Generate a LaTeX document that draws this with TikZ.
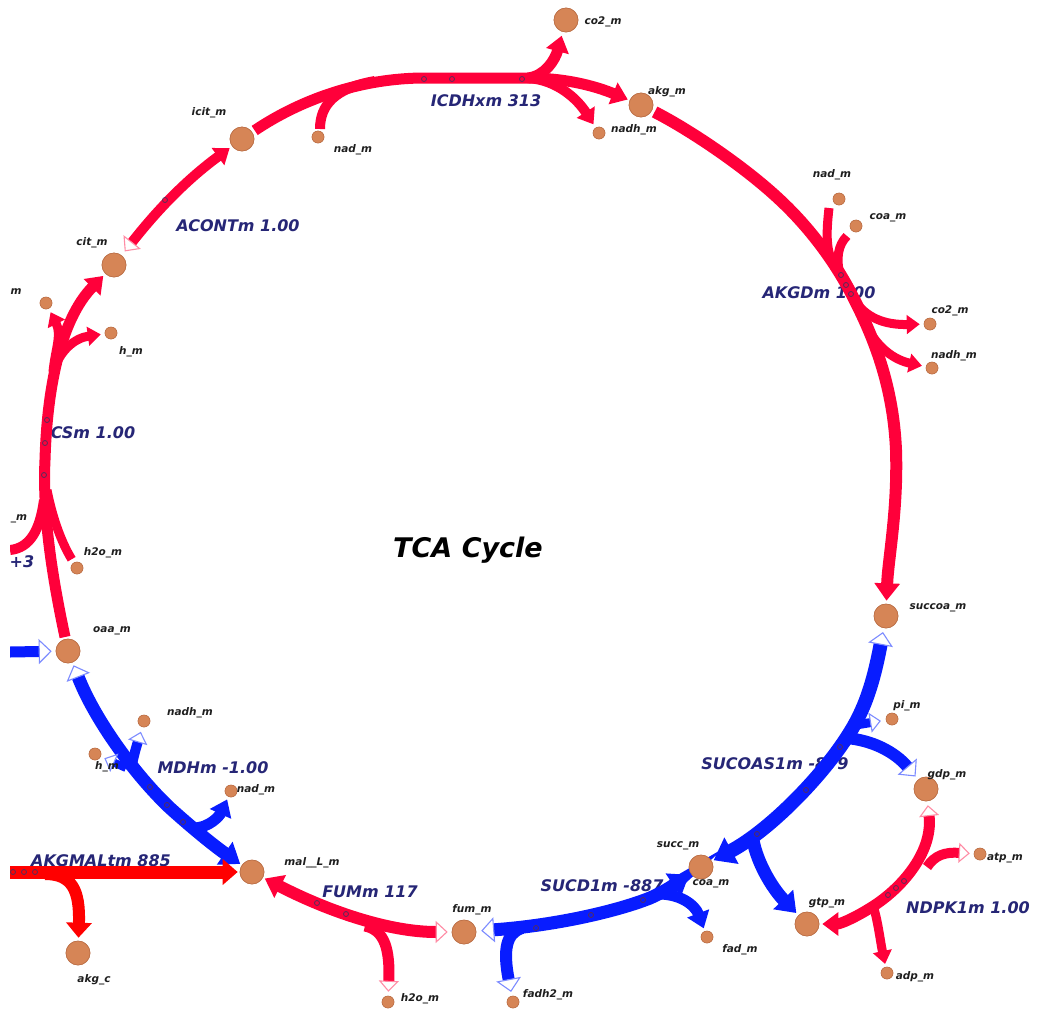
\documentclass[tikz,border=0pt]{standalone}
\usepackage{fontspec}
\setmainfont{DejaVu Sans}
\usetikzlibrary{arrows.meta,calc}
\definecolor{tred}{RGB}{255,0,58}
\definecolor{kred}{RGB}{255,0,0}
\definecolor{tblue}{RGB}{8,28,255}
\definecolor{hred}{RGB}{255,140,165}
\definecolor{hblue}{RGB}{125,140,255}
\definecolor{metfill}{RGB}{214,133,86}
\definecolor{metdraw}{RGB}{188,112,72}
\definecolor{rxtext}{RGB}{38,38,118}
\definecolor{mkc}{RGB}{85,45,90}
\tikzset{
  FA/.tip={Triangle[length=0pt 1.45,width=0pt 2.05]},
  FK/.tip={Triangle[length=15pt,width=25pt]},
  HR/.tip={Triangle[open,length=12pt,width=22pt,line width=1.1pt,color=hred]},
  HRs/.tip={Triangle[open,length=11pt,width=20pt,line width=1.1pt,color=hred]},
  HB/.tip={Triangle[open,length=13pt,width=25pt,line width=1.1pt,color=hblue]},
  HBs/.tip={Triangle[open,length=11pt,width=20pt,line width=1.1pt,color=hblue]},
  big/.style={circle,fill=metfill,draw=metdraw,line width=0.6pt,inner sep=0pt,minimum size=24pt},
  sml/.style={circle,fill=metfill,draw=metdraw,line width=0.5pt,inner sep=0pt,minimum size=12pt},
  mlab/.style={font=\fontsize{10.5}{10.5}\selectfont\bfseries\itshape,text=black!88,inner sep=0pt},
  rlab/.style={font=\fontsize{16}{16}\selectfont\bfseries\itshape,text=rxtext,inner sep=0pt},
  rr/.style={draw=tred,line width=#1},
  bb/.style={draw=tblue,line width=#1},
  mk/.style={draw=mkc,line width=0.8pt},
}
\begin{document}
\begin{tikzpicture}[x=1pt,y=-1pt]
\useasboundingbox[fill=white] (0,0) rectangle (1037,1010);
\clip (10,0) rectangle (1037,1010);

% ---------- metabolite nodes (placed first for names; drawn again on top later)
\path
 (566,20) node[big] (co2a) {}
 (641,105) node[big] (akgm) {}
 (599,133) node[sml] (nadha) {}
 (318,137) node[sml] (nada) {}
 (242,139) node[big] (icit) {}
 (114,265) node[big] (cit) {}
 (46,303) node[sml] (coac) {}
 (111,333) node[sml] (hmb) {}
 (77,568) node[sml] (h2oa) {}
 (68,651) node[big] (oaa) {}
 (144,721) node[sml] (nadhb) {}
 (95,754) node[sml] (hmc) {}
 (231,791) node[sml] (nadb) {}
 (252,872) node[big] (mal) {}
 (78,953) node[big] (akgc) {}
 (388,1002) node[sml] (h2ob) {}
 (464,932) node[big] (fum) {}
 (513,1002) node[sml] (fadh2) {}
 (701,867) node[big] (succ) {}
 (707,937) node[sml] (fad) {}
 (807,924) node[big] (gtp) {}
 (887,973) node[sml] (adp) {}
 (980,854) node[sml] (atp) {}
 (926,789) node[big] (gdp) {}
 (892,719) node[sml] (pim) {}
 (886,616) node[big] (succoa) {}
 (932,368) node[sml] (nadhc) {}
 (930,324) node[sml] (co2c) {}
 (856,226) node[sml] (coad) {}
 (839,199) node[sml] (nadc) {};

% ---------- reaction labels
\node[rlab] (lICDH) at (486,101) {ICDHxm 313};
\node[rlab] (lACON) at (238,226) {ACONTm 1.00};
\node[rlab] (lAKGD) at (819,293) {AKGDm 1.00};
\node[rlab] (lCS) at (93,433) {CSm 1.00};
\node[rlab] (lP3) at (22,562) {+3};
\node[rlab] (lMDH) at (213,768) {MDHm -1.00};
\node[rlab] (lAKGMAL) at (101,861) {AKGMALtm 885};
\node[rlab] (lFUM) at (370,892) {FUMm 117};
\node[rlab] (lSUCD) at (602,886) {SUCD1m -887};
\node[rlab] (lSUCOAS) at (775,764) {SUCOAS1m -879};
\node[rlab] (lNDPK) at (968,908) {NDPK1m 1.00};

% ---------- ACONTm
\draw[rr=10pt, {HR}-{FA}, shorten <=5pt, shorten >=3pt] (cit) .. controls (148,222) and (178,186) .. (icit);
\draw[mk] (165,200) circle[radius=2.5pt];

% ---------- ICDHxm
\coordinate (icdh) at (528,78);
\draw[rr=11pt, shorten <=3pt] (icit) .. controls (300,100) and (360,78) .. (425,78) -- (icdh);
\draw[rr=10pt] ($(nada)+(2,-8)$) .. controls (320,105) and (335,88) .. (375,81);
\draw[rr=11pt, -{FA}, shorten >=4pt] (icdh) .. controls (545,76) and (555,60) .. (co2a);
\draw[rr=11pt, -{FA}, shorten >=2pt] (icdh) .. controls (570,78) and (600,88) .. (akgm);
\draw[rr=10pt, -{FA}, shorten >=4pt] (icdh) .. controls (558,80) and (578,100) .. (nadha);
\foreach \p in {(424,79),(452,79),(522,79)} \draw[mk] \p circle[radius=2.5pt];

% ---------- AKGDm
\draw[rr=12pt, -{FA}, shorten <=3pt, shorten >=3pt] (akgm) .. controls (690,130) and (745,167) .. (780,200) .. controls (810,228) and (835,262) .. (852,295) .. controls (870,330) and (893,380) .. (896,450) .. controls (898,510) and (888,560) .. (succoa);
\draw[rr=9pt] ($(nadc)+(-10,9)$) .. controls (826,235) and (826,250) .. (834,266);
\draw[rr=9pt] ($(coad)+(-9,10)$) .. controls (838,245) and (836,258) .. (840,275);
\draw[rr=9pt, -{FA}, shorten >=4pt] (853,298) .. controls (865,318) and (885,325) .. (co2c);
\draw[rr=9pt, -{FA}, shorten >=4pt] (863,318) .. controls (875,348) and (895,360) .. (nadhc);
\foreach \p in {(841,275),(846,285),(851,294)} \draw[mk] \p circle[radius=2.5pt];

% ---------- SUCOAS1m
\draw[bb=14pt, {HB}-{FA}, shorten <=4pt, shorten >=2pt] (succoa) .. controls (872,690) and (862,715) .. (845,740) .. controls (820,778) and (770,830) .. (succ);
\draw[bb=9pt, -{HBs}, shorten >=5pt] (850,726) -- (pim);
\draw[bb=12pt, -{HB}, shorten >=4pt] (846,738) .. controls (872,740) and (895,752) .. (gdp);
\draw[bb=13pt, -{FA}, shorten >=3pt] (752,834) .. controls (755,860) and (772,888) .. (gtp);
\foreach \p in {(840,747),(806,790),(757,834)} \draw[mk] \p circle[radius=2.5pt];

% ---------- NDPK1m
\draw[rr=11pt, {HRs}-{FA}, shorten <=4pt, shorten >=3pt] (gdp) .. controls (933,850) and (905,885) .. (875,905) .. controls (855,918) and (840,924) .. (gtp);
\draw[rr=10pt, -{HRs}, shorten >=4pt] (927,867) .. controls (935,855) and (945,852) .. (atp);
\draw[rr=9pt, -{FA}, shorten >=3pt] (872,902) .. controls (878,920) and (880,940) .. (adp);
\foreach \p in {(888,895),(896,888),(904,881)} \draw[mk] \p circle[radius=2.5pt];

% ---------- SUCD1m
\draw[bb=13pt, {HB}-{FA}, shorten <=5pt, shorten >=2pt] (fum) .. controls (560,925) and (620,910) .. (650,898) .. controls (668,890) and (678,882) .. (succ);
\draw[bb=12pt, -{HB}, shorten >=4pt] (522,928) .. controls (506,933) and (503,950) .. (fadh2);
\draw[bb=11pt, -{FA}, shorten >=3pt] (655,894) .. controls (680,893) and (695,905) .. (fad);
\foreach \p in {(536,928),(591,915),(643,900)} \draw[mk] \p circle[radius=2.5pt];

% ---------- FUMm
\draw[rr=12pt, {HR}-{FA}, shorten <=4pt, shorten >=2pt] (fum) .. controls (390,932) and (330,912) .. (mal);
\draw[rr=11pt, -{HRs}, shorten >=4pt] (365,926) .. controls (385,930) and (390,950) .. (h2ob);
\foreach \p in {(317,903),(346,914)} \draw[mk] \p circle[radius=2.5pt];

% ---------- MDHm
\draw[bb=13pt, {HB}-{FA}, shorten <=3pt, shorten >=2pt] (oaa) .. controls (95,720) and (135,775) .. (170,808) .. controls (200,835) and (220,850) .. (mal);
\draw[bb=10pt, -{HBs}, shorten >=5pt] (131,770) .. controls (133,758) and (136,748) .. (nadhb);
\draw[bb=8pt, -{HBs}, shorten >=4pt] (126,768) -- (hmc);
\draw[bb=11pt, -{FA}, shorten >=3pt] (193,828) .. controls (210,828) and (220,815) .. (nadb);
\foreach \p in {(150,787),(167,805),(183,822)} \draw[mk] \p circle[radius=2.5pt];

% ---------- AKGMALtm
\coordinate (ak0) at (10,872);
\draw[draw=kred, line width=13pt, -{FK}, shorten >=2pt] (ak0) -- (mal);
\draw[draw=kred, line width=12pt, -{FK}, shorten >=3pt] (45,874) .. controls (72,874) and (80,890) .. (akgc);
\foreach \p in {(13,872),(24,872),(35,872)} \draw[mk] \p circle[radius=2.5pt];

% ---------- CSm
\coordinate (cs0) at (10,550);
\draw[rr=11pt, -{FA}, shorten <=2pt, shorten >=3pt] (oaa) .. controls (55,590) and (42,520) .. (45,460) .. controls (47,390) and (60,320) .. (cit);
\draw[rr=10pt] (cs0) .. controls (30,548) and (40,530) .. (44,500);
\draw[rr=9pt, shorten <=4pt] (h2oa) .. controls (60,540) and (52,515) .. (47,490);
\draw[rr=9pt, -{FA}, shorten >=4pt] (53,372) .. controls (55,350) and (62,335) .. (coac);
\draw[rr=9pt, -{FA}, shorten >=4pt] (53,372) .. controls (60,350) and (75,338) .. (hmb);
\foreach \p in {(47,420),(45,443),(44,475)} \draw[mk] \p circle[radius=2.5pt];

% ---------- exchange into oaa
\coordinate (ox) at (10,652);
\draw[bb=11pt, -{HB}, shorten >=4pt] (ox) -- (oaa);

% ---------- metabolite circles on top
\foreach \n in {co2a,akgm,icit,cit,oaa,mal,akgc,fum,succ,gtp,gdp,succoa}
  \path (\n) node[big] {};
\foreach \n in {nadha,nada,coac,hmb,h2oa,nadhb,hmc,nadb,h2ob,fadh2,fad,adp,atp,pim,nadhc,co2c,coad,nadc}
  \path (\n) node[sml] {};

% ---------- metabolite labels
\node[mlab] (t1) at (603,22) {co2\_m};
\node[mlab] (t2) at (667,92) {akg\_m};
\node[mlab] (t3) at (634,130) {nadh\_m};
\node[mlab] (t4) at (353,150) {nad\_m};
\node[mlab] (t5) at (209,113) {icit\_m};
\node[mlab] (t6) at (92,243) {cit\_m};
\node[mlab] (t7) at (16,292) {m};
\node[mlab] (t8) at (131,352) {h\_m};
\node[mlab] (t9) at (19,519) {\_m};
\node[mlab] (t10) at (103,553) {h2o\_m};
\node[mlab] (t11) at (112,631) {oaa\_m};
\node[mlab] (t12) at (190,713) {nadh\_m};
\node[mlab] (t13) at (107,767) {h\_m};
\node[mlab] (t14) at (256,790) {nad\_m};
\node[mlab] (t15) at (312,863) {mal\_\_L\_m};
\node[mlab] (t16) at (94,980) {akg\_c};
\node[mlab] (t17) at (420,999) {h2o\_m};
\node[mlab] (t18) at (472,910) {fum\_m};
\node[mlab] (t19) at (548,995) {fadh2\_m};
\node[mlab] (t20) at (678,846) {succ\_m};
\node[mlab] (t21) at (711,884) {coa\_m};
\node[mlab] (t22) at (740,950) {fad\_m};
\node[mlab] (t23) at (827,903) {gtp\_m};
\node[mlab] (t24) at (915,977) {adp\_m};
\node[mlab] (t25) at (1005,858) {atp\_m};
\node[mlab] (t26) at (947,775) {gdp\_m};
\node[mlab] (t27) at (907,706) {pi\_m};
\node[mlab] (t28) at (938,608) {succoa\_m};
\node[mlab] (t29) at (954,356) {nadh\_m};
\node[mlab] (t30) at (950,311) {co2\_m};
\node[mlab] (t31) at (888,218) {coa\_m};
\node[mlab] (t32) at (832,175) {nad\_m};

\node[font=\fontsize{27}{27}\selectfont\bfseries\itshape, text=black, inner sep=0pt] (title) at (468,550) {TCA Cycle};
\end{tikzpicture}
\end{document}
